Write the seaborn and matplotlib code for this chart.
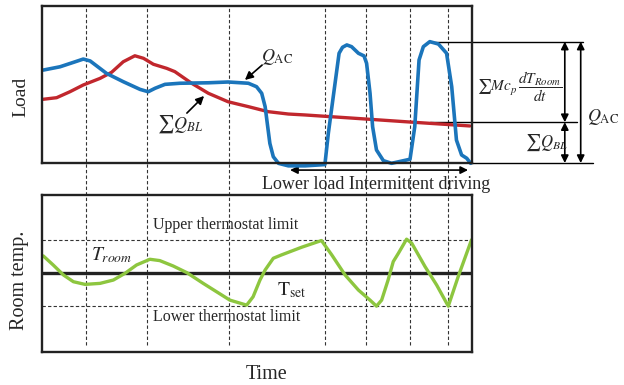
import numpy as np
import pandas as pd
import seaborn as sns
import matplotlib.pyplot as plt

sns.set_style("white")
plt.rcParams["font.family"] = ["Liberation Serif", "DejaVu Serif"]
plt.rcParams["mathtext.fontset"] = "stix"

# time axis runs 0..100 (arbitrary units), load 0..100, temperature around T_set = 0
t_ac = [0.3, 4.2, 7.3, 9.6, 11.2, 15.0, 18.9, 22.8, 24.7, 26.3, 28.6, 32.1,
        38.7, 43.3, 48.0, 49.9, 51.1, 51.9, 52.5, 53.0, 53.8, 55.0, 57.3,
        61.2, 65.8, 66.6, 69.1, 69.9, 70.9, 72.0, 73.6, 74.9, 75.5, 76.3,
        76.9, 77.8, 79.4, 81.3, 85.6, 86.7, 87.3, 87.7, 88.7, 90.2, 92.2,
        94.1, 95.3, 96.4, 97.6, 98.8, 99.7]
q_ac = [59.2, 61.3, 64.1, 66.2, 65.0, 57.1, 51.8, 46.9, 45.4, 47.6, 50.1, 50.8,
        51.1, 51.6, 50.8, 48.6, 44.4, 35.9, 23.1, 12.5, 4.0, -0.2, -1.8,
        -1.8, -1.0, 18.9, 69.9, 73.7, 75.2, 74.1, 69.9, 68.2, 63.5, 44.4,
        23.1, 8.3, 1.5, -0.2, 2.4, 23.1, 48.6, 65.6, 74.1, 77.3, 75.8,
        69.9, 48.6, 14.6, 5.1, 3.0, -0.2]

t_bl = [0.3, 3.4, 6.5, 9.6, 13.5, 16.2, 18.9, 21.6, 23.6, 25.9, 29.0, 30.9,
        34.8, 38.7, 43.3, 48.0, 52.6, 57.3, 61.2, 71.6, 85.6, 99.5]
q_bl = [40.6, 41.6, 45.4, 49.7, 53.9, 57.8, 64.5, 68.3, 66.7, 62.9, 60.3, 58.2,
        50.8, 44.4, 39.0, 35.9, 32.7, 31.2, 30.6, 28.7, 26.1, 23.6]

t_room = [0.3, 2.6, 5.0, 7.3, 10.0, 13.5, 16.6, 19.3, 22.0, 25.1, 27.4, 30.5,
          33.7, 37.5, 40.6, 43.7, 47.6, 49.1, 50.7, 51.9, 53.8, 55.7, 60.4,
          65.0, 67.4, 70.5, 73.6, 76.3, 77.8, 79.0, 80.5, 81.7, 82.9, 84.8,
          86.0, 89.1, 91.8, 94.5, 96.8, 99.9]
temp_room = [0.51, 0.24, -0.06, -0.26, -0.34, -0.31, -0.21, -0.01, 0.24, 0.41,
             0.37, 0.21, 0.01, -0.31, -0.56, -0.81, -0.96, -0.71, -0.21, 0.09,
             0.44, 0.54, 0.77, 0.97, 0.54, -0.06, -0.51, -0.81, -0.99, -0.81,
             -0.21, 0.34, 0.59, 1.01, 0.89, 0.19, -0.36, -0.99, -0.11, 0.99]

grid_times = [10.2, 24.4, 43.5, 65.8, 75.3, 85.6, 94.4]
t_set, upper_limit, lower_limit = 0, 1, -1
bl_level = 26

BLUE, RED, GREEN = "#1B75BB", "#C1272D", "#8DC63F"
DARK = "#222222"

ac = pd.DataFrame({"time": t_ac, "load": q_ac})
bl = pd.DataFrame({"time": t_bl, "load": q_bl})
room = pd.DataFrame({"time": t_room, "temp": temp_room})

fig = plt.figure(figsize=(6.24, 3.85), dpi=100)
ax1 = fig.add_axes([0.0673, 0.5766, 0.689, 0.4078])
ax2 = fig.add_axes([0.0673, 0.0857, 0.689, 0.4078])

# ---- top: loads
sns.lineplot(data=bl, x="time", y="load", color=RED, lw=2.4, ax=ax1,
             solid_joinstyle="round", solid_capstyle="round", zorder=3)
sns.lineplot(data=ac, x="time", y="load", color=BLUE, lw=2.6, ax=ax1,
             solid_joinstyle="round", solid_capstyle="round", zorder=4,
             clip_on=False)
ax1.set_xlim(0, 100)
ax1.set_ylim(0, 100)

# ---- bottom: room temperature
ax2.axhline(t_set, color=DARK, lw=2.4, zorder=3)
for lim in (upper_limit, lower_limit):
    ax2.axhline(lim, color="#333333", lw=0.8, ls=(0, (3, 2)), zorder=1)
sns.lineplot(data=room, x="time", y="temp", color=GREEN, lw=2.4, ax=ax2,
             solid_joinstyle="round", solid_capstyle="round", zorder=4)
ax2.set_xlim(0, 100)
ax2.set_ylim(-2.36, 2.33)

for t in grid_times:
    ax1.axvline(t, ymin=-0.204, ymax=1, color="#333333", lw=0.8,
                ls=(0, (3, 2)), clip_on=False, zorder=1)
    ax2.axvline(t, ymin=0.045, ymax=1, color="#333333", lw=0.8,
                ls=(0, (3, 2)), zorder=1)

for ax in (ax1, ax2):
    ax.set_xticks([])
    ax.set_yticks([])
    ax.set_xlabel("")
    for sp in ax.spines.values():
        sp.set_color(DARK)
        sp.set_linewidth(1.7)
        sp.set_zorder(5)

ax1.set_ylabel("Load", fontsize=14)
ax1.yaxis.set_label_coords(-0.03, 0.42)
ax2.set_ylabel("Room temp.", fontsize=14.5)
ax2.yaxis.set_label_coords(-0.03, 0.459)
ax2.set_xlabel("Time", fontsize=14.5)
ax2.xaxis.set_label_coords(0.523, -0.085)

# ---- annotations, top panel
arrow = dict(arrowstyle="-|>", color="black", lw=1.2, mutation_scale=12,
             shrinkA=0, shrinkB=0)
ax1.annotate("", xy=(47.2, 52.9), xytext=(51.2, 62.4), arrowprops=arrow)
ax1.text(54.6, 67.5, r"$Q_{\mathrm{AC}}$", fontsize=13, ha="center",
         va="center")
ax1.annotate("", xy=(37.7, 42.7), xytext=(33.7, 31.8), arrowprops=arrow)
ax1.text(32.1, 24.5, r"$\sum Q_{BL}$", fontsize=13, ha="center", va="center")

peak = max(q_ac)
kw = dict(color="black", lw=1.0, clip_on=False)
ax1.plot([90.2, 125.8], [peak, peak], **kw)
ax1.plot([90.2, 124.4], [bl_level, bl_level], **kw)
ax1.plot([100, 128.1], [0, 0], **kw)
dbl = dict(arrowstyle="<|-|>", color="black", lw=1.2, mutation_scale=11,
           shrinkA=0, shrinkB=0)
ax1.annotate("", xy=(121.6, peak), xytext=(121.6, bl_level),
             arrowprops=dbl, annotation_clip=False)
ax1.annotate("", xy=(121.6, bl_level), xytext=(121.6, 0),
             arrowprops=dbl, annotation_clip=False)
ax1.annotate("", xy=(125.3, peak), xytext=(125.3, 0),
             arrowprops=dbl, annotation_clip=False)
ax1.text(111.0, 48.4, r"$\sum Mc_p\,\dfrac{dT_{Room}}{dt}$", fontsize=11,
         ha="center", va="center", clip_on=False)
ax1.text(117.4, 12.7, r"$\sum Q_{BL}$", fontsize=12, ha="center",
         va="center", clip_on=False)
ax1.text(130.5, 29.3, r"$Q_{\mathrm{AC}}$", fontsize=13, ha="center",
         va="center", clip_on=False)

ax1.annotate("", xy=(57.7, -4.5), xytext=(99.1, -4.5),
             arrowprops=dict(arrowstyle="<|-|>", color="black", lw=1.2,
                             mutation_scale=11, shrinkA=0, shrinkB=0),
             annotation_clip=False)
ax1.text(77.7, -13.4, "Lower load Intermittent driving", fontsize=13,
         ha="center", va="center", clip_on=False)

# ---- annotations, bottom panel
ax2.text(25.8, 1.43, "Upper thermostat limit", fontsize=11.5, va="center")
ax2.text(25.8, -1.31, "Lower thermostat limit", fontsize=11.5, va="center")
ax2.text(16.3, 0.54, r"$T_{room}$", fontsize=14, ha="center", va="center")
ax2.text(58.1, -0.51, r"$\mathrm{T}_{\mathrm{set}}$", fontsize=14,
         ha="center", va="center")

fig.savefig("out.png", dpi=100)
